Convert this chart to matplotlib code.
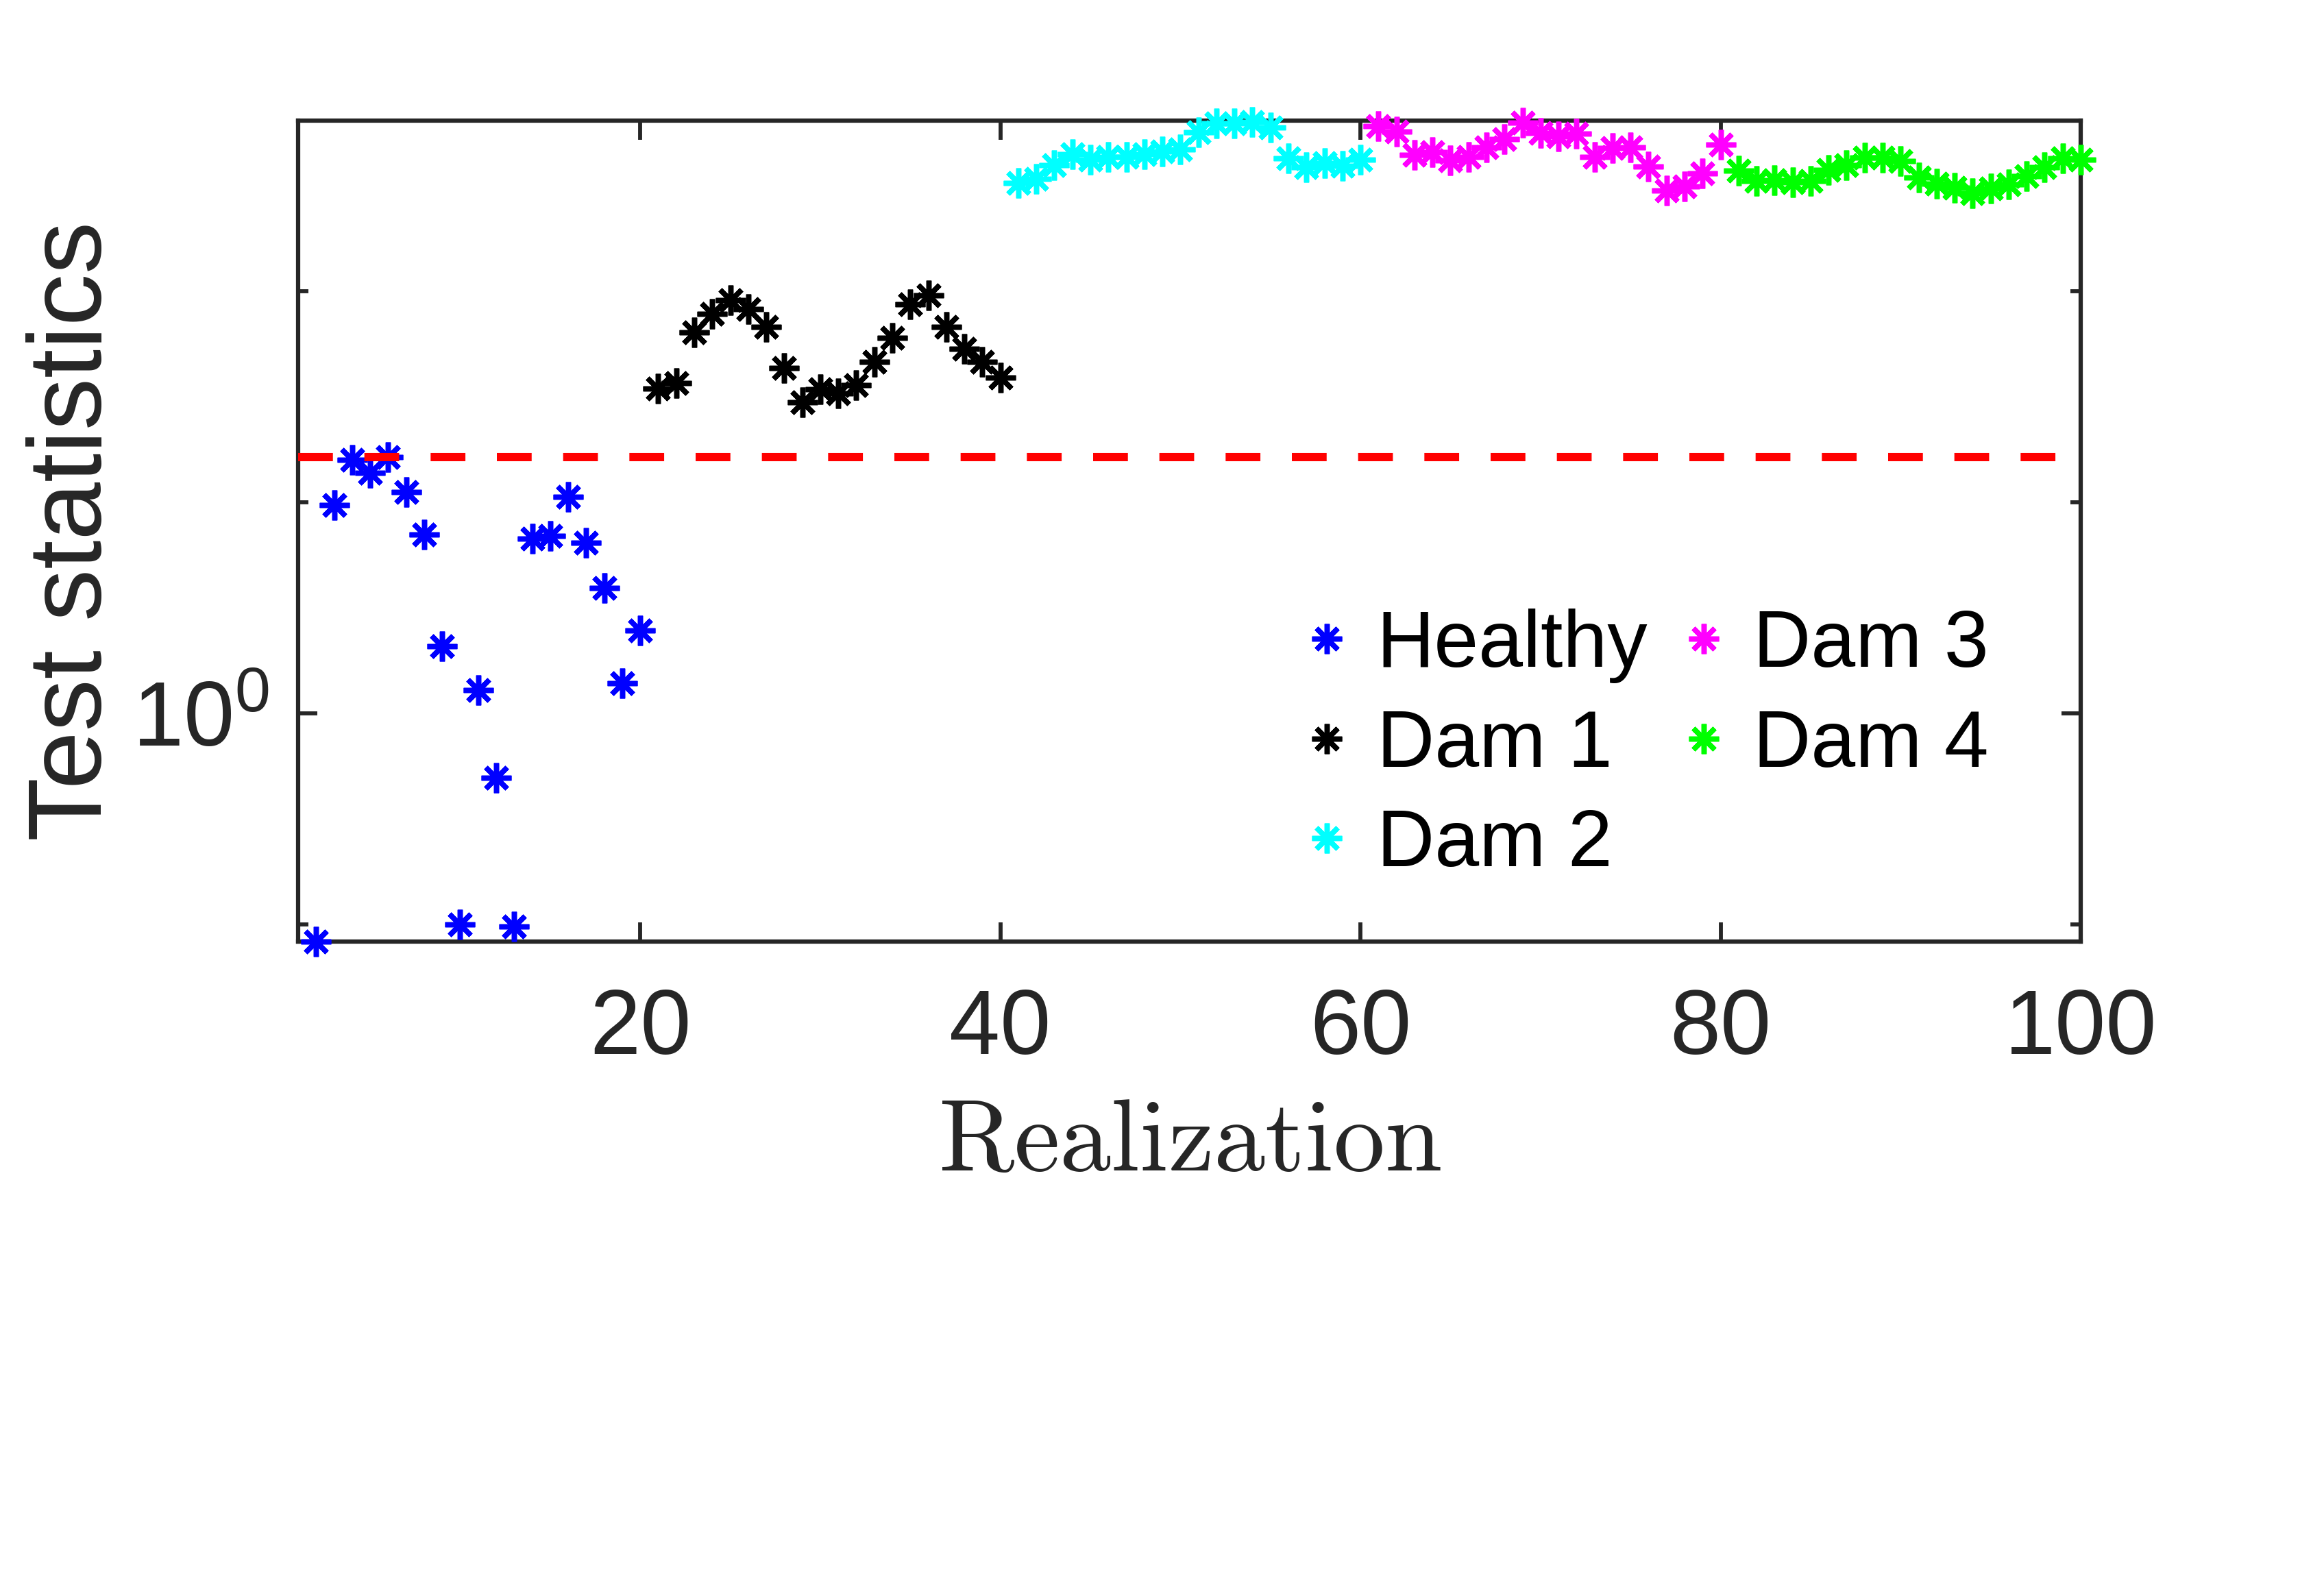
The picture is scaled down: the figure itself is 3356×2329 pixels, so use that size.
import matplotlib
matplotlib.use("Agg")
import matplotlib.pyplot as plt
import numpy as np

plt.rcParams['font.family'] = ['Liberation Sans', 'DejaVu Sans']

# realization index for each damage state
x_healthy = list(range(2, 21))
x_dam1 = list(range(21, 41))
x_dam2 = list(range(41, 61))
x_dam3 = list(range(61, 81))
x_dam4 = list(range(81, 101))

healthy = [0.083, 9.67, 15.85, 13.8, 16.4, 11.2, 7.01, 2.08, 0.100, 1.29,
           0.497, 0.098, 6.73, 6.93, 10.6, 6.41, 3.93, 1.39, 2.47]
dam1 = [34.6, 36.7, 63.6, 77.8, 90.8, 82.2, 67.5, 43.2, 29.8, 34.4,
        32.8, 35.9, 46.3, 60.2, 86.6, 95.9, 67.9, 53.5, 46.1, 39.0]
dam2 = [325, 340, 395, 445, 420, 432, 432, 444, 458, 470,
        566, 624, 624, 631, 596, 425, 388, 405, 393, 420]
dam3 = [606, 572, 442, 457, 416, 434, 480, 526, 628, 563,
        542, 556, 432, 475, 480, 390, 300, 313, 362, 496]
dam4 = [372, 332, 336, 329, 333, 374, 394, 430, 430, 414,
        346, 324, 309, 290, 306, 320, 352, 386, 427, 420]
threshold = 16.4

series = [
    (x_healthy, healthy, 'Healthy', (0, 0, 1)),
    (x_dam1, dam1, 'Dam 1', (0, 0, 0)),
    (x_dam2, dam2, 'Dam 2', (0, 1, 1)),
    (x_dam3, dam3, 'Dam 3', (1, 0, 1)),
    (x_dam4, dam4, 'Dam 4', (0, 1, 0)),
]

axcol = '#262626'
fig = plt.figure(figsize=(3356 / 300, 2329 / 300), dpi=300)
ax = fig.add_axes([435 / 3356, 1 - 1374 / 2329, 2601 / 3356, 1198 / 2329])

for xs, ys, name, col in series:
    ax.plot(xs, ys, linestyle='none', marker=(8, 2, 0), markersize=10.5,
            markeredgewidth=1.8, color=col, label=name, clip_on=False, zorder=3)

ax.axhline(threshold, color=(1, 0, 0), linewidth=2.9, dashes=(4.2, 3.8),
           dash_capstyle='butt', zorder=4)

ax.set_yscale('log')
ax.set_xlim(1, 100)
ax.set_ylim(10 ** -1.081, 10 ** 2.808)

ax.set_xticks([20, 40, 60, 80, 100])
ax.set_yticks([1])
ax.set_yticklabels([r'$\mathregular{10^0}$'])
ax.set_yticks([0.1, 10, 100], minor=True)
ax.yaxis.set_minor_formatter(matplotlib.ticker.NullFormatter())
ax.xaxis.set_minor_locator(matplotlib.ticker.NullLocator())

ax.tick_params(which='both', direction='in', top=True, right=True,
               width=1.4, color=axcol, labelcolor=axcol, labelsize=32)
ax.tick_params(which='major', length=6.7)
ax.tick_params(which='minor', length=3.5)
ax.tick_params(axis='x', pad=16)
ax.tick_params(axis='y', pad=10)
for sp in ax.spines.values():
    sp.set_linewidth(1.5)
    sp.set_color(axcol)

ax.set_xlabel(r'$\mathrm{Realization}$', fontsize=36, color=axcol,
              math_fontfamily='cm', labelpad=8)
ax.set_ylabel('Test statistics', fontsize=36.5, color=axcol)
ax.yaxis.set_label_coords(-0.098, 0.5)

leg = ax.legend(ncol=2, frameon=False, fontsize=28, loc='center',
                bbox_to_anchor=(2396 / 3356, 1 - 1088 / 2329),
                bbox_transform=fig.transFigure,
                handlelength=0.8, handletextpad=0.22, columnspacing=0.3,
                labelspacing=0.31, markerscale=1.0)

fig.savefig('out.png', dpi=300)
